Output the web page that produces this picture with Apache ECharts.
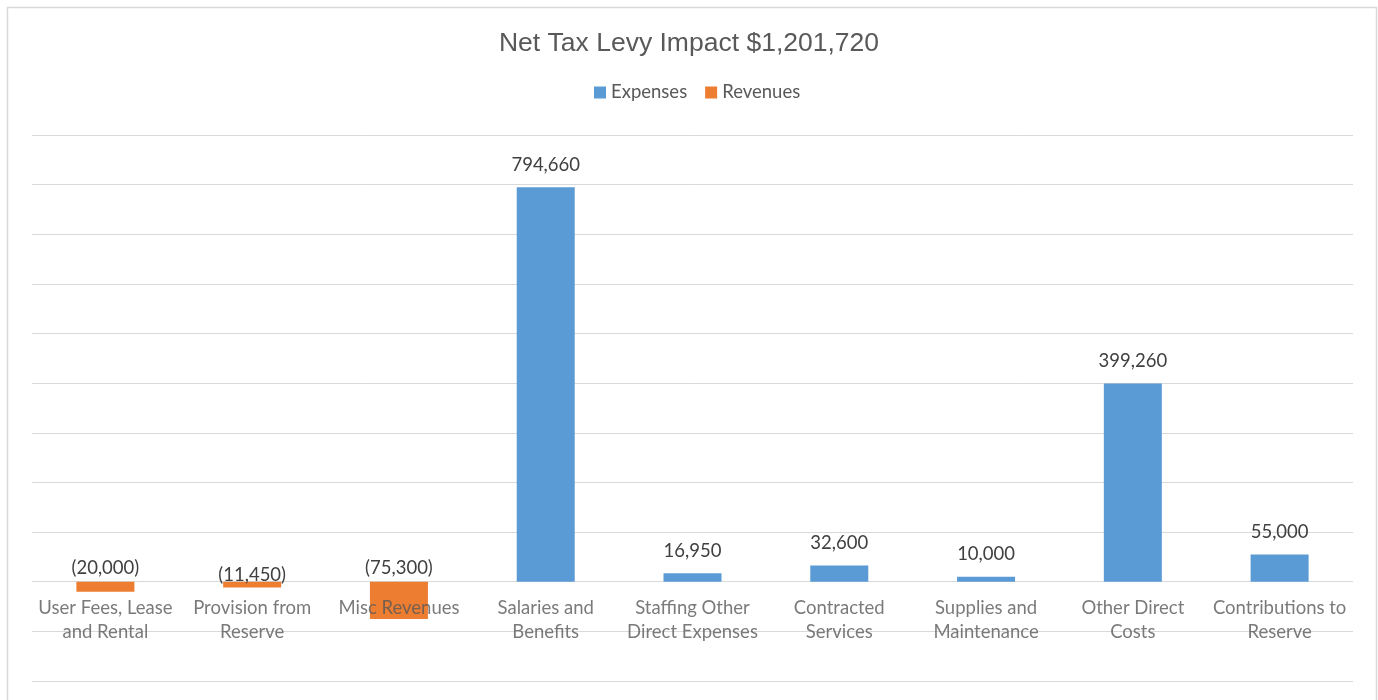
<!DOCTYPE html>
<html>
<head>
<meta charset="utf-8">
<style>
  html, body { margin: 0; padding: 0; background: #fff; }
  #chart { width: 1378px; height: 700px; }
</style>
<script src="https://cdn.jsdelivr.net/npm/echarts@6/dist/echarts.min.js"></script>
</head>
<body>
<div id="chart"></div>
<script>
// categories and values
var categories = [
    'User Fees, Lease\nand Rental',
    'Provision from\nReserve',
    'Misc Revenues',
    'Salaries and\nBenefits',
    'Staffing Other\nDirect Expenses',
    'Contracted\nServices',
    'Supplies and\nMaintenance',
    'Other Direct\nCosts',
    'Contributions to\nReserve'
];
var expenses = ['-', '-', '-', 794660, 16950, 32600, 10000, 399260, 55000];
var revenues = [-20000, -11450, -75300, '-', '-', '-', '-', '-', '-'];

var titleText = 'Net Tax Levy Impact $1,201,720';

function fmt(v) {
    var s = Math.abs(v).toString().replace(/\B(?=(\d{3})+(?!\d))/g, ',');
    return v < 0 ? '(' + s + ')' : s;
}

var myChart = echarts.init(document.getElementById('chart'));

var labelFont = 'Lato, "Open Sans", sans-serif';

// category names sit on the zero line (like excel), so draw them from an invisible series at 0
var zeroLine = categories.map(function () { return 0; });

// the (11,450) label sits a bit lower in the original
var revenueData = revenues.map(function (v, i) {
    if (i === 1) {
        return { value: v, label: { distance: -3 } };
    }
    return v;
});

var option = {
    backgroundColor: '#fff',
    animation: false,
    graphic: [{
        type: 'rect',
        shape: { x: 7.5, y: 7.5, width: 1369, height: 720 },
        style: { fill: 'none', stroke: '#d9d9d9', lineWidth: 1.5 },
        silent: true
    }],
    title: {
        text: titleText,
        left: 'center',
        top: 25,
        textStyle: {
            fontFamily: '"Liberation Sans", Arial, sans-serif',
            fontWeight: 'normal',
            fontSize: 26.5,
            color: '#595959'
        }
    },
    legend: {
        top: 78,
        left: 589,
        itemWidth: 12,
        itemHeight: 12,
        itemGap: 18,
        icon: 'rect',
        textStyle: { fontFamily: labelFont, fontSize: 18.5, color: '#595959' },
        data: ['Expenses', 'Revenues']
    },
    grid: {
        left: 32,
        right: 25,
        top: 135,
        bottom: 19,
        outerBoundsMode: 'none',
        containLabel: false
    },
    xAxis: {
        type: 'category',
        data: categories,
        axisLine: { show: false },
        axisTick: { show: false },
        axisLabel: { show: false }
    },
    yAxis: {
        type: 'value',
        min: -200000,
        max: 900000,
        interval: 100000,
        axisLabel: { show: false },
        axisLine: { show: false },
        axisTick: { show: false },
        splitLine: { lineStyle: { color: '#d9d9d9', width: 1 } }
    },
    series: [
        {
            name: 'Categories',
            type: 'scatter',
            z: 3,
            symbolSize: 0,
            silent: true,
            data: zeroLine,
            label: {
                show: true,
                position: 'bottom',
                distance: 14,
                fontFamily: labelFont,
                fontSize: 18.5,
                lineHeight: 24,
                color: '#595959',
                formatter: function (p) { return p.name; }
            }
        },
        {
            name: 'Expenses',
            type: 'bar',
            stack: 'total',
            z: 2,
            barWidth: 58,
            data: expenses,
            itemStyle: { color: '#5b9bd5' },
            label: {
                show: true,
                position: 'top',
                distance: 13,
                fontFamily: labelFont,
                fontSize: 18.5,
                color: '#404040',
                formatter: function (p) { return fmt(p.value); }
            }
        },
        {
            name: 'Revenues',
            type: 'bar',
            stack: 'total',
            z: 2,
            barWidth: 58,
            data: revenueData,
            itemStyle: { color: '#ed7d31' },
            label: {
                show: true,
                position: 'top',
                distance: 4,
                fontFamily: labelFont,
                fontSize: 18.5,
                color: '#404040',
                formatter: function (p) { return fmt(p.value); }
            }
        }
    ]
};

myChart.setOption(option);

window.addEventListener('resize', function () {
    myChart.resize();
});
</script>
</body>
</html>
